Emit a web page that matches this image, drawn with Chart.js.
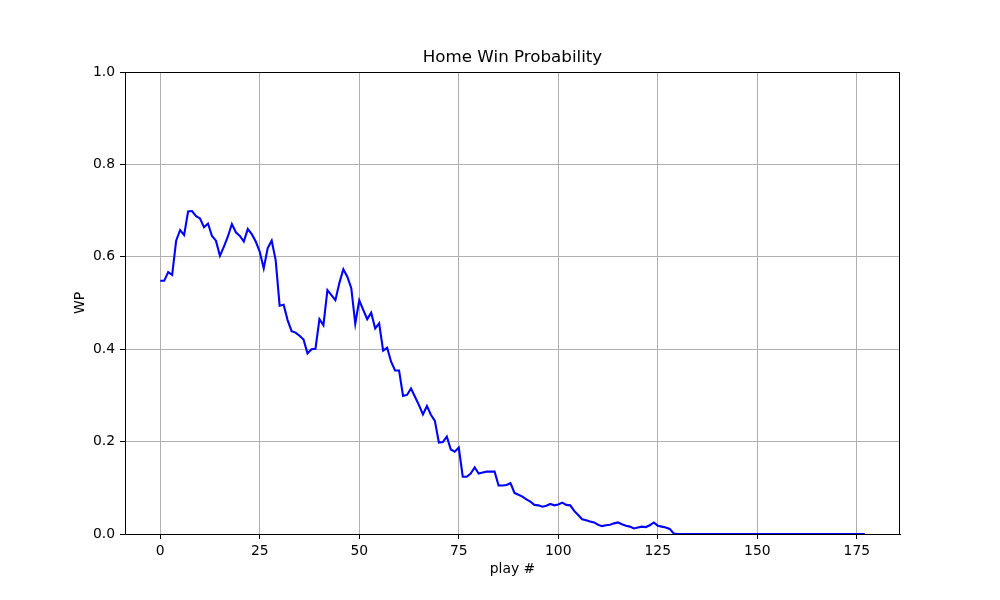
<!DOCTYPE html>
<html>
<head>
<meta charset="utf-8">
<script src="https://cdn.jsdelivr.net/npm/chart.js@4.4.0/dist/chart.umd.min.js"></script>
<style>
  body { margin: 0; background: #fff; }
  #wrap { width: 1000px; height: 600px; }
</style>
</head>
<body>
<div id="wrap"><canvas id="wp-chart" width="1000" height="600"></canvas></div>
<script>
// Home win probability per play
const chartTitle = 'Home Win Probability';
const xLabel = 'play #';
const yLabel = 'WP';

const xTicks = [0, 25, 50, 75, 100, 125, 150, 175];
const yTicks = [0.0, 0.2, 0.4, 0.6, 0.8, 1.0];

// WP value for play 0, 1, 2, ...
const wpValues = [
    0.548, 0.548, 0.567, 0.561, 0.635, 0.658, 0.647, 0.698, 0.699, 0.688,
    0.683, 0.664, 0.672, 0.645, 0.635, 0.602, 0.622, 0.644, 0.671, 0.653,
    0.645, 0.633, 0.660, 0.649, 0.633, 0.611, 0.575, 0.619, 0.635, 0.593,
    0.494, 0.496, 0.463, 0.439, 0.436, 0.429, 0.421, 0.391, 0.400, 0.401,
    0.465, 0.452, 0.528, 0.517, 0.506, 0.543, 0.573, 0.557, 0.532, 0.455,
    0.506, 0.485, 0.465, 0.479, 0.445, 0.456, 0.397, 0.403, 0.373, 0.354,
    0.354, 0.299, 0.301, 0.315, 0.297, 0.279, 0.259, 0.277, 0.258, 0.245,
    0.198, 0.199, 0.211, 0.183, 0.178, 0.187, 0.124, 0.124, 0.131, 0.144,
    0.131, 0.133, 0.135, 0.135, 0.135, 0.105, 0.105, 0.106, 0.110, 0.089,
    0.085, 0.081, 0.075, 0.070, 0.063, 0.062, 0.059, 0.061, 0.065, 0.062,
    0.064, 0.068, 0.063, 0.062, 0.050, 0.041, 0.032, 0.030, 0.027, 0.025,
    0.020, 0.017, 0.019, 0.020, 0.023, 0.025, 0.021, 0.018, 0.016, 0.012,
    0.014, 0.016, 0.015, 0.019, 0.025, 0.018, 0.016, 0.014, 0.011, 0.001,
    0, 0, 0, 0, 0, 0, 0, 0, 0, 0,
    0, 0, 0, 0, 0, 0, 0, 0, 0, 0,
    0, 0, 0, 0, 0, 0, 0, 0, 0, 0,
    0, 0, 0, 0, 0, 0, 0, 0, 0, 0,
    0, 0, 0, 0, 0, 0, 0, 0
];

Chart.defaults.font.family = "'DejaVu Sans', sans-serif";
Chart.defaults.color = '#000';

// frame on all four sides plus the titles, placed like the original figure
const framePlugin = {
    id: 'frame',
    afterDraw(chart) {
        const { ctx, chartArea: a } = chart;
        ctx.save();
        ctx.strokeStyle = '#000';
        ctx.lineWidth = 1;
        ctx.strokeRect(a.left + 0.5, a.top + 0.5, a.right - a.left - 1, a.bottom - a.top);

        ctx.fillStyle = '#000';
        ctx.textAlign = 'center';
        ctx.textBaseline = 'middle';
        ctx.font = "16.7px 'DejaVu Sans'";
        ctx.fillText(chartTitle, (a.left + a.right) / 2, 58);

        ctx.font = "13.9px 'DejaVu Sans'";
        ctx.fillText(xLabel, (a.left + a.right) / 2, 569);

        ctx.translate(80, (a.top + a.bottom) / 2);
        ctx.rotate(-Math.PI / 2);
        ctx.fillText(yLabel, 0, 0);
        ctx.restore();
    }
};

const points = wpValues.map((v, i) => ({ x: i, y: v }));

new Chart(document.getElementById('wp-chart'), {
    type: 'line',
    data: {
        datasets: [{
            data: points,
            borderColor: '#0000ff',
            borderWidth: 2.1,
            pointRadius: 0,
            tension: 0,
            fill: false
        }]
    },
    options: {
        responsive: false,
        animation: false,
        devicePixelRatio: 1,
        layout: { padding: { top: 72, right: 100, left: 0, bottom: 0 } },
        plugins: {
            legend: { display: false },
            title: { display: false },
            tooltip: { enabled: false }
        },
        scales: {
            x: {
                type: 'linear',
                min: -8.85,
                max: 185.85,
                afterFit(scale) { scale.height = 66; },
                afterBuildTicks(scale) { scale.ticks = xTicks.map(v => ({ value: v })); },
                grid: { color: '#b0b0b0', lineWidth: 1, tickColor: '#000', tickLength: 5 },
                border: { display: true, color: '#000', width: 1 },
                ticks: {
                    padding: 4,
                    maxRotation: 0,
                    font: { size: 13.9 },
                    callback: v => String(v)
                }
            },
            y: {
                min: 0,
                max: 1,
                afterFit(scale) { scale.width = 125; },
                afterBuildTicks(scale) { scale.ticks = yTicks.map(v => ({ value: v })); },
                grid: { color: '#b0b0b0', lineWidth: 1, tickColor: '#000', tickLength: 5 },
                border: { display: true, color: '#000', width: 1 },
                ticks: {
                    padding: 5,
                    font: { size: 13.9 },
                    callback: v => Number(v).toFixed(1)
                }
            }
        }
    },
    plugins: [framePlugin]
});
</script>
</body>
</html>
